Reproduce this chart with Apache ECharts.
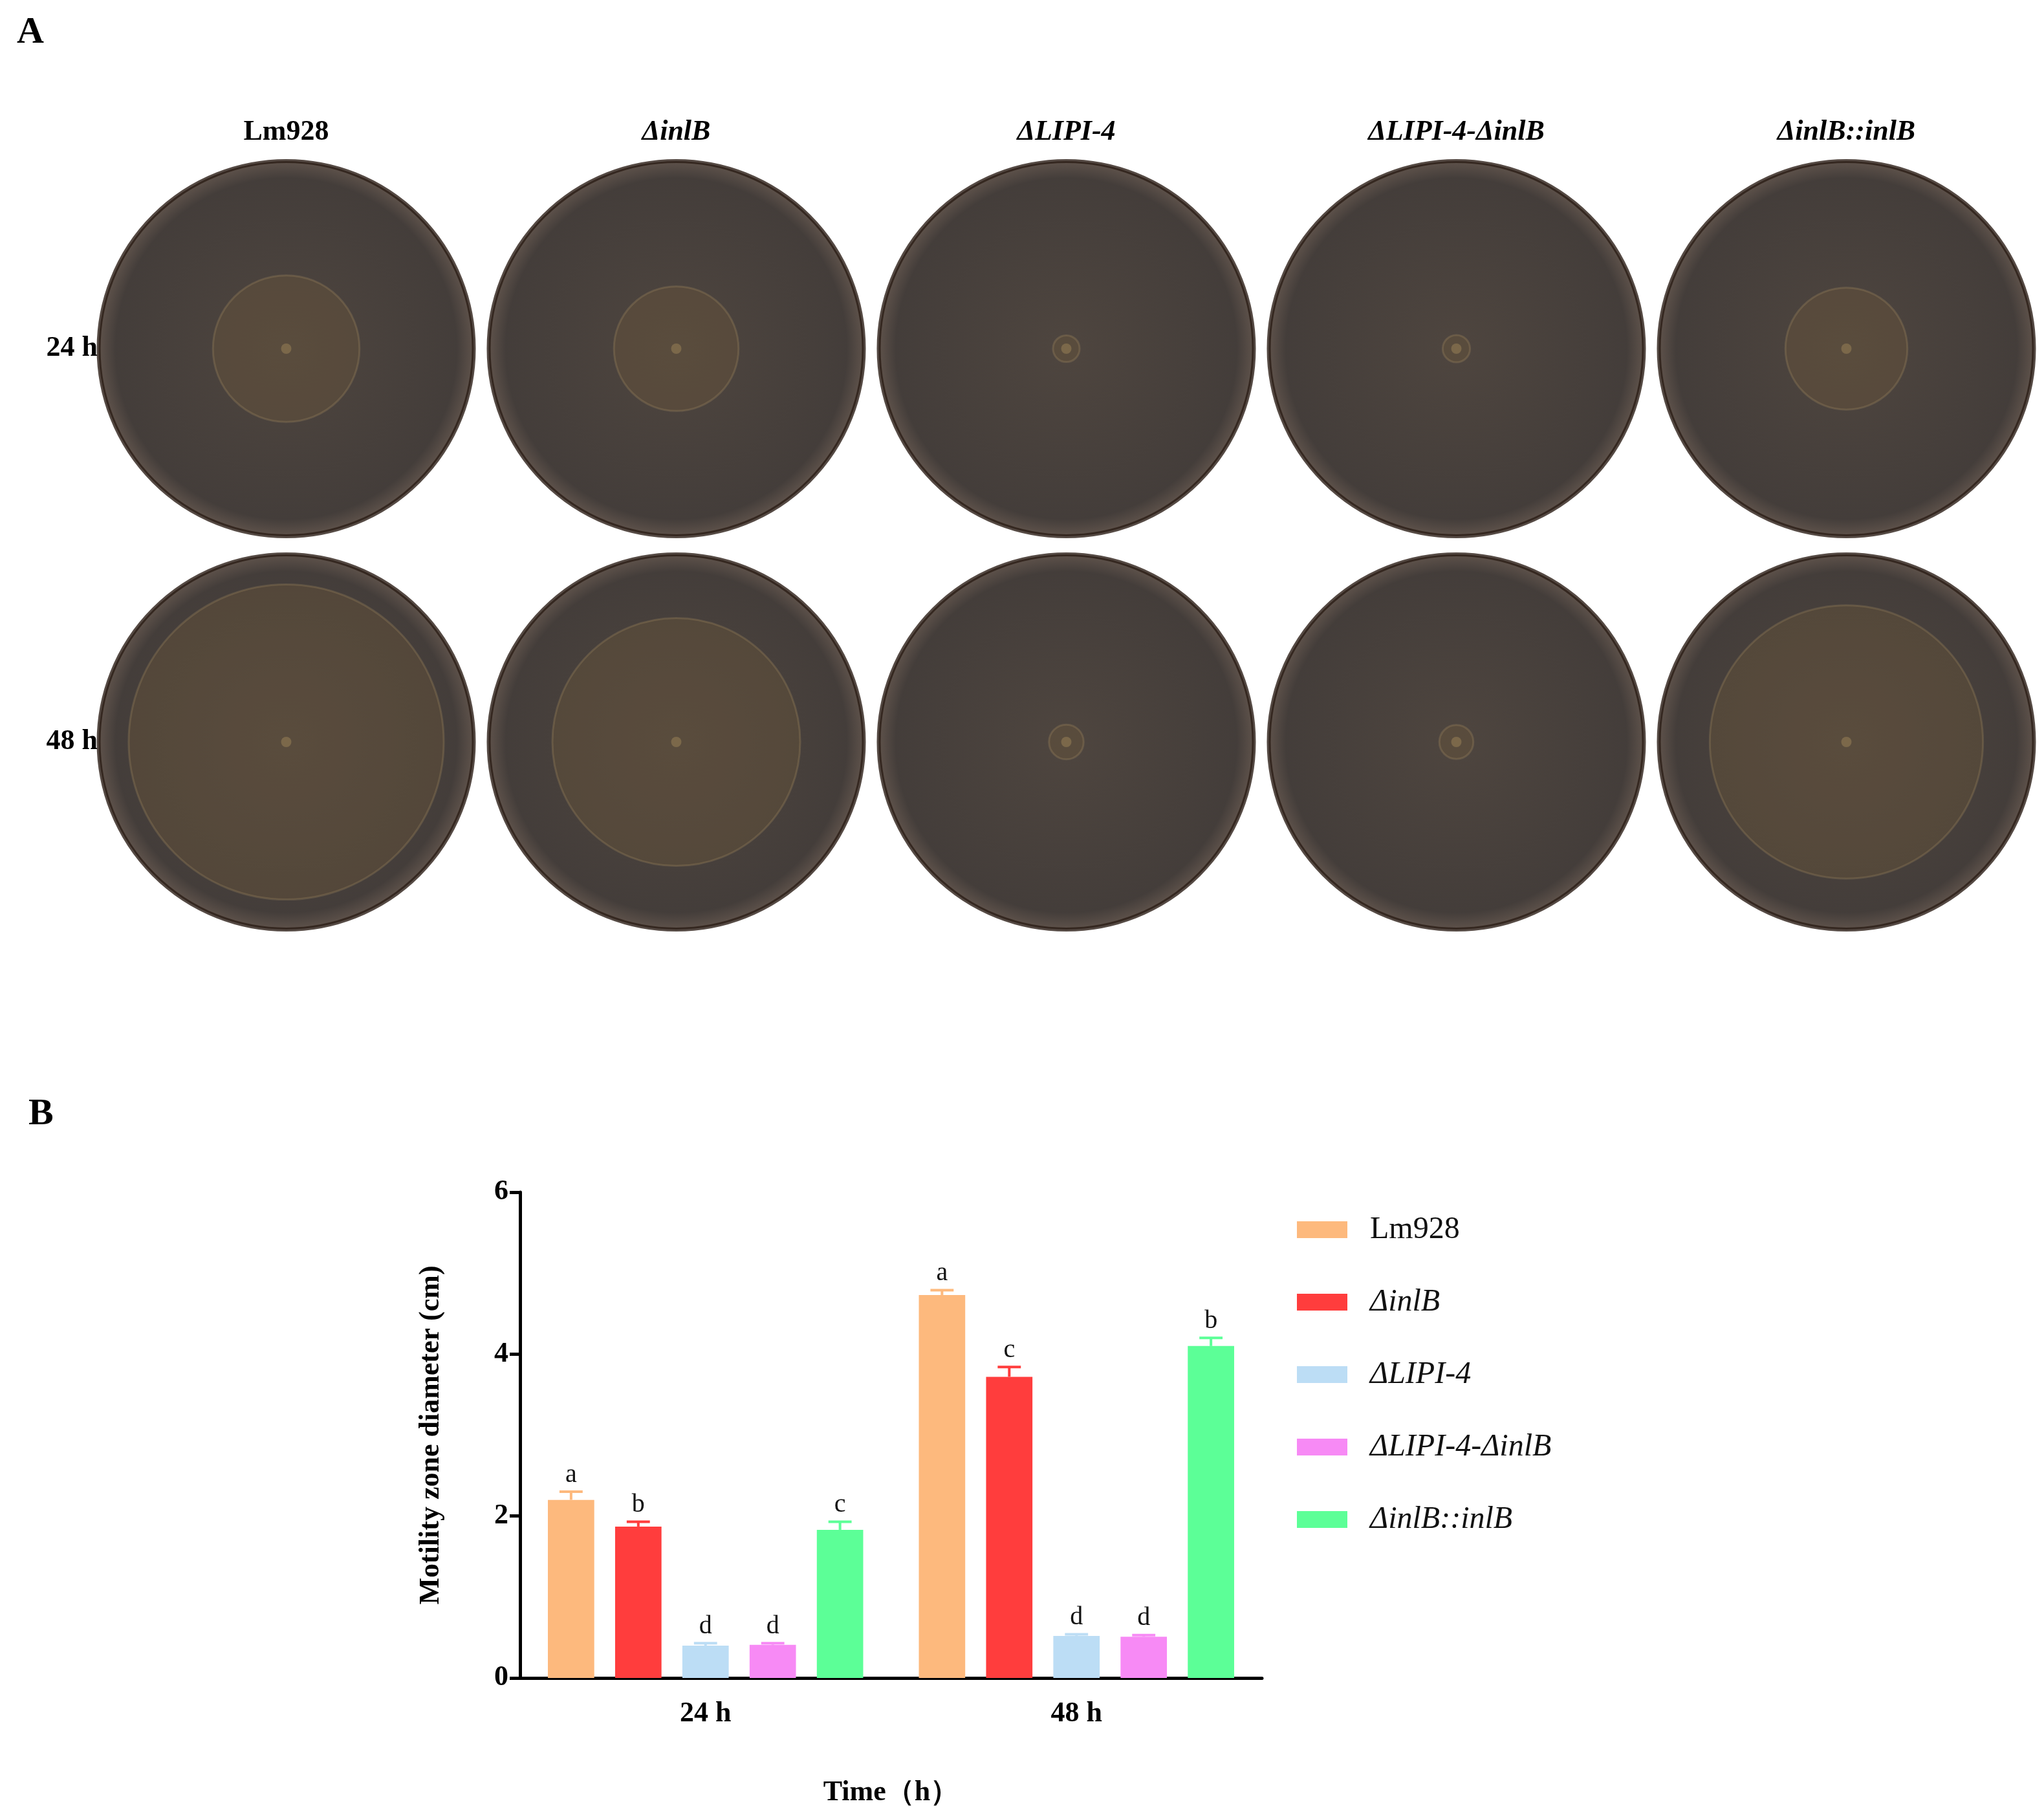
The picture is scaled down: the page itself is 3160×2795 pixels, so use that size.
<!DOCTYPE html>
<html><head><meta charset="utf-8">
<script src="https://cdn.jsdelivr.net/npm/echarts@6/dist/echarts.min.js"></script>
<style>html,body{margin:0;padding:0;background:#fff}#c{width:3160px;height:2795px}</style>
</head><body><div id="c"></div>
<script>
const strains = ['Lm928','ΔinlB','ΔLIPI-4','ΔLIPI-4-ΔinlB','ΔinlB::inlB'];
const italic = [false,true,true,true,true];
const times = ['24 h','48 h'];
const colors = ['#FDB97D','#FF3D3D','#BCDDF5','#F78AF5','#5CFF97'];
const letters = [['a','a'],['b','c'],['d','d'],['d','d'],['c','b']];
const means = [[2.20,4.73],[1.87,3.72],[0.40,0.52],[0.41,0.51],[1.83,4.10]];
const errs  = [[0.10,0.06],[0.06,0.12],[0.03,0.02],[0.02,0.02],[0.10,0.10]];
const yTicks = [0,2,4,6];

const F = '"Liberation Serif","Times New Roman",serif';
const chart = echarts.init(document.getElementById('c'));
const CG = 0.15, BG = 0.45, N = strains.length;

function fmtName(n){ return italic[strains.indexOf(n)] ? '{i|'+n+'}' : '{r|'+n+'}'; }

const series = [];
// Panel A dishes
const dishData = [], zoneData = [], dotData = [];
strains.forEach((s,i)=>times.forEach((t,j)=>{
  dishData.push([i,j]);
  zoneData.push({value:[i,j], symbolSize: means[i][j]*103});
  dotData.push([i,j]);
}));
series.push({type:'scatter', xAxisIndex:1, yAxisIndex:1, data:dishData, symbolSize:580, silent:true, z:1,
  itemStyle:{color:{type:'radial',x:0.5,y:0.5,r:0.5,colorStops:[{offset:0,color:'#22170f'},{offset:0.9,color:'#150d09'},{offset:1,color:'#3a2a20'}]},borderColor:'#2a1d15',borderWidth:6}});
series.push({type:'scatter', xAxisIndex:1, yAxisIndex:1, data:zoneData, silent:true, z:2,
  itemStyle:{color:'rgba(110,88,58,0.45)',borderColor:'rgba(170,145,100,0.35)',borderWidth:3}});
series.push({type:'scatter', xAxisIndex:1, yAxisIndex:1, data:dotData, symbolSize:16, silent:true, z:3,
  itemStyle:{color:'rgba(160,135,90,0.6)'}});

// Panel B bars
strains.forEach((s,i)=>{
  series.push({type:'bar', name:s, data:means[i], xAxisIndex:0, yAxisIndex:0,
    barCategoryGap:(CG*100)+'%', barGap:(BG*100)+'%', itemStyle:{color:colors[i]}, z:2});
});
strains.forEach((s,i)=>{
  series.push({type:'custom', xAxisIndex:0, yAxisIndex:0, z:3, silent:true,
    data: means[i].map((m,j)=>[j,m,errs[i][j],letters[i][j]]),
    renderItem:(params,api)=>{
      const bw = api.size([1,0])[0];
      const usable = bw*(1-CG);
      const barW = usable/(N+(N-1)*BG);
      const off = -usable/2 + barW/2 + i*barW*(1+BG);
      const top = api.coord([api.value(0), api.value(1)+api.value(2)]);
      const base = api.coord([api.value(0), api.value(1)]);
      const x = top[0]+off;
      const cap = barW*0.5;
      return {type:'group', children:[
        {type:'line', shape:{x1:x,y1:base[1],x2:x,y2:top[1]}, style:{stroke:colors[i],lineWidth:4}},
        {type:'line', shape:{x1:x-cap/2,y1:top[1],x2:x+cap/2,y2:top[1]}, style:{stroke:colors[i],lineWidth:4}},
        {type:'text', x:x, y:top[1]-6, style:{text:api.value(3), fill:'#111', font:'40px '+F, align:'center', verticalAlign:'bottom'}}
      ]};
    }});
});

chart.setOption({
  animation:false,
  backgroundColor:'#fff',
  graphic:[
    {type:'text', left:26, top:22, style:{text:'A', font:'bold 58px '+F, fill:'#000'}},
    {type:'text', left:44, top:1694, style:{text:'B', font:'bold 58px '+F, fill:'#000'}}
  ],
  legend:{data:strains, orient:'vertical', left:2000, top:1872, itemWidth:78, itemHeight:26, itemGap:64,
    icon:'rect', formatter:fmtName,
    textStyle:{fontSize:48, fontFamily:F, color:'#111', padding:[0,0,0,30],
      rich:{i:{fontSize:48,fontFamily:F,fontStyle:'italic',color:'#111'}, r:{fontSize:48,fontFamily:F,color:'#111'}}}},
  grid:[
    {left:804, top:1843, width:1147, height:762},
    {left:141, top:235, width:3015, height:1216}
  ],
  xAxis:[
    {type:'category', gridIndex:0, data:times,
      axisLine:{lineStyle:{color:'#000',width:5}},
      axisTick:{alignWithLabel:true, length:24, lineStyle:{color:'#000',width:5}},
      axisLabel:{fontSize:44, fontWeight:'bold', fontFamily:F, color:'#000', margin:34},
      name:'Time（h）', nameLocation:'middle', nameGap:156,
      nameTextStyle:{fontSize:44, fontWeight:'bold', fontFamily:F, color:'#000'}},
    {type:'category', gridIndex:1, data:strains, position:'top',
      axisLine:{show:false}, axisTick:{show:false},
      axisLabel:{margin:8, formatter:v=>italic[strains.indexOf(v)]?'{i|'+v+'}':'{r|'+v+'}',
        rich:{i:{fontSize:44,fontWeight:'bold',fontStyle:'italic',fontFamily:F,color:'#000'},
              r:{fontSize:44,fontWeight:'bold',fontFamily:F,color:'#000'}}}}
  ],
  yAxis:[
    {type:'value', gridIndex:0, min:0, max:6, interval:2,
      axisLine:{show:true, lineStyle:{color:'#000',width:5}},
      axisTick:{show:true, length:16, lineStyle:{color:'#000',width:5}},
      splitLine:{show:false},
      axisLabel:{fontSize:44, fontWeight:'bold', fontFamily:F, color:'#000', margin:18, formatter:v=>yTicks.includes(v)?String(v):''},
      name:'Motility zone diameter (cm)', nameLocation:'middle', nameGap:115,
      nameTextStyle:{fontSize:44, fontWeight:'bold', fontFamily:F, color:'#000'}},
    {type:'category', gridIndex:1, data:times, inverse:true,
      axisLine:{show:false}, axisTick:{show:false},
      axisLabel:{fontSize:44, fontWeight:'bold', fontFamily:F, color:'#000', margin:-10}}
  ],
  series
});
</script></body></html>
